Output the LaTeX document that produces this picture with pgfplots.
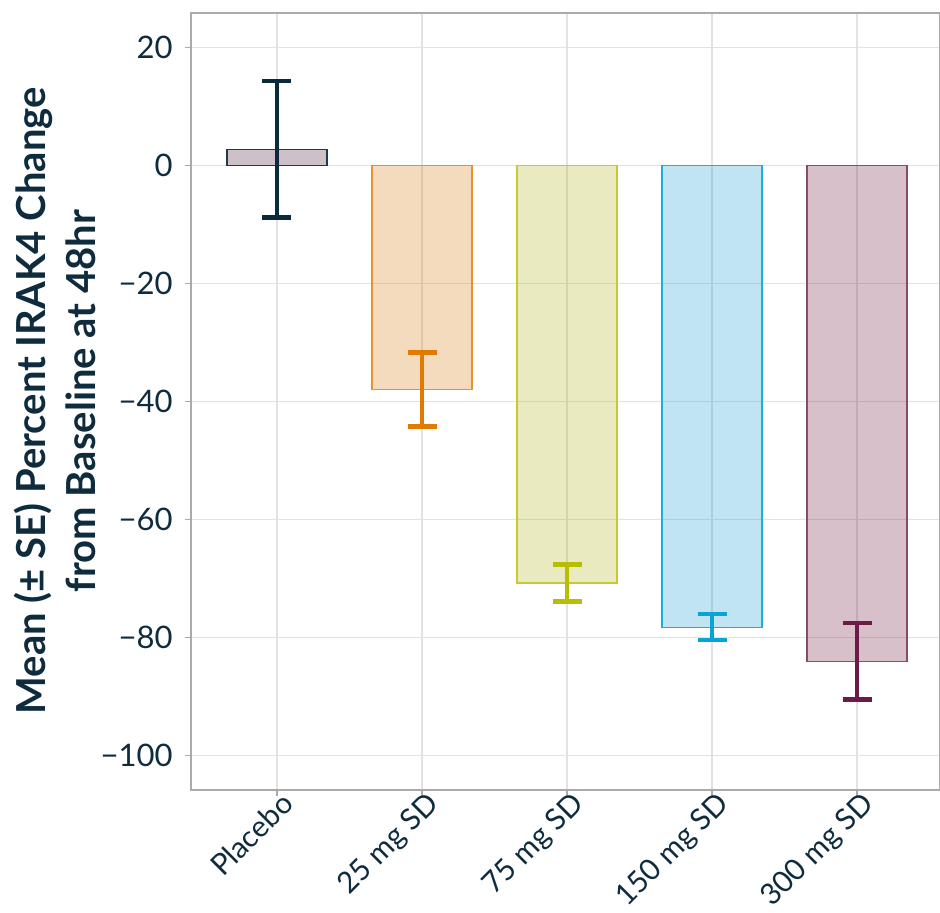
\documentclass[border=0pt]{standalone}
\usepackage{pgfplots}
\pgfplotsset{compat=1.18}
\usepackage{fontspec}
\setmainfont{Lato}

\definecolor{ink}{HTML}{0F2C3E}
\definecolor{gridgray}{HTML}{E2E2E2}
\definecolor{axisgray}{HTML}{AAAAAA}
% bar colours (fill drawn at reduced opacity) and error-bar colours
\definecolor{cpla}{HTML}{5A2E48}
\definecolor{cplaedge}{HTML}{1E3A4E}
\definecolor{cplaerr}{HTML}{0A2A3C}
\definecolor{c25}{HTML}{DA8723}
\definecolor{c25edge}{HTML}{E8922E}
\definecolor{c25err}{HTML}{E07B00}
\definecolor{c75}{HTML}{B6B92A}
\definecolor{c75edge}{HTML}{C8C830}
\definecolor{c75err}{HTML}{B8BD00}
\definecolor{c150}{HTML}{2DA5D4}
\definecolor{c150edge}{HTML}{1AAEDE}
\definecolor{c150err}{HTML}{0AA3D3}
\definecolor{c300}{HTML}{7D2D4E}
\definecolor{c300edge}{HTML}{8A4A6A}
\definecolor{c300err}{HTML}{6E1A46}

\pgfplotsset{
  errstyle/.style={
    error bars/error bar style={draw=#1, line width=2.3pt},
    error bars/error mark options={rotate=90, draw=#1, line width=2.3pt, mark size=7.25pt},
  },
}

\begin{document}
\begin{tikzpicture}
\path[use as bounding box] (-95.5pt,-61.5pt) rectangle (374.5pt,395pt);
\begin{axis}[
  at={(0,0)}, anchor=south west,
  scale only axis, width=374.5pt, height=388.5pt,
  xmin=-0.593, xmax=4.572, ymin=-105.9, ymax=25.8,
  xtick={0,...,4},
  xticklabels={Placebo,25 mg SD,75 mg SD,150 mg SD,300 mg SD},
  ytick={-100,-80,-60,-40,-20,0,20},
  yticklabels={−100,−80,−60,−40,−20,0,20},
  grid=major, major grid style={draw=gridgray, line width=0.6pt},
  axis line style={draw=axisgray, line width=0.6pt},
  tick style={draw=axisgray, line width=0.6pt},
  tick align=outside, major tick length=3pt,
  xtick pos=left, ytick pos=left,
  yticklabel style={font=\fontsize{15.5}{18}\selectfont, text=ink, inner sep=3pt, xshift=-3pt},
  xticklabel style={font=\fontsize{14.8}{18}\selectfont, text=ink,
    xshift=1.5pt, yshift=6pt, rotate=45, anchor=north east, inner sep=2pt},
  ybar, bar width=0.69, bar shift=0pt,
  error bars/y dir=both, error bars/y explicit,
]
\addplot[fill=cpla, fill opacity=0.3, draw=cplaedge, line width=0.6pt, errstyle=cplaerr]
  coordinates {(0,2.7) +- (0,11.6)};
\addplot[fill=c25, fill opacity=0.3, draw=c25edge, line width=0.6pt, errstyle=c25err]
  coordinates {(1,-38.0) +- (0,6.3)};
\addplot[fill=c75, fill opacity=0.3, draw=c75edge, line width=0.6pt, errstyle=c75err]
  coordinates {(2,-70.8) +- (0,3.1)};
\addplot[fill=c150, fill opacity=0.3, draw=c150edge, line width=0.6pt, errstyle=c150err]
  coordinates {(3,-78.3) +- (0,2.2)};
\addplot[fill=c300, fill opacity=0.3, draw=c300edge, line width=0.6pt, errstyle=c300err]
  coordinates {(4,-84.1) +- (0,6.5)};
\end{axis}
\node[rotate=90, align=center, text=ink,
      font=\bfseries\fontsize{20}{25}\selectfont]
  at (-68pt,194.5pt) {Mean (± SE) Percent IRAK4 Change\\from Baseline at 48hr};
\end{tikzpicture}
\end{document}
